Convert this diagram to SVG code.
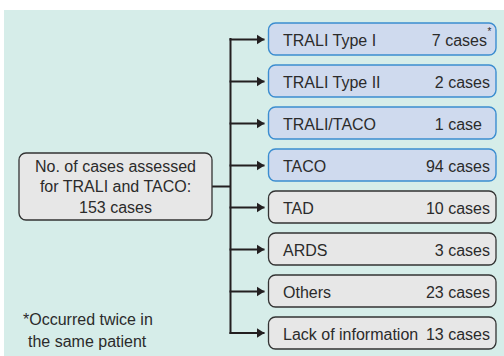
<svg xmlns="http://www.w3.org/2000/svg" width="504" height="356" viewBox="0 0 504 356">
<defs>
<style>
text{font-family:"Liberation Sans",Arial,sans-serif;font-size:16px;fill:#2b2b2b}
.r{text-anchor:end}
.c{text-anchor:middle}
.blue{fill:#cfdaee;stroke:#3b8dd0;stroke-width:1.4}
.gray{fill:#e7e7e7;stroke:#333;stroke-width:1.3}
.conn{fill:none;stroke:#231f20;stroke-width:2}
</style>
<marker id="ah" viewBox="0 0 8 10" refX="8" refY="5" markerWidth="4" markerHeight="5.2" orient="auto" markerUnits="strokeWidth">
<path d="M0,0 L8,5 L0,10 z" fill="#231f20"/>
</marker>
</defs>
<rect x="4" y="10" width="500" height="346" fill="#d6ede9"/>
<g id="connectors">
<path class="conn" d="M212,186.5 H230.5"/>
<path class="conn" d="M230.5,38 V334"/>
<path class="conn" d="M229.5,39.5 H264.5" marker-end="url(#ah)"/>
<path class="conn" d="M229.5,81.5 H264.5" marker-end="url(#ah)"/>
<path class="conn" d="M229.5,123.5 H264.5" marker-end="url(#ah)"/>
<path class="conn" d="M229.5,165.5 H264.5" marker-end="url(#ah)"/>
<path class="conn" d="M229.5,207.5 H264.5" marker-end="url(#ah)"/>
<path class="conn" d="M229.5,249.5 H264.5" marker-end="url(#ah)"/>
<path class="conn" d="M229.5,291.5 H264.5" marker-end="url(#ah)"/>
<path class="conn" d="M229.5,333 H264.5" marker-end="url(#ah)"/>
</g>
<g id="source">
<rect class="gray" x="19" y="153" width="193" height="67" rx="7"/>
<text class="c" x="115.5" y="171.5">No. of cases assessed</text>
<text class="c" x="115.5" y="192">for TRALI and TACO:</text>
<text class="c" x="115.5" y="213">153 cases</text>
</g>
<g id="trali1">
<rect class="blue" x="268.5" y="23" width="227.5" height="32" rx="7"/>
<text x="283" y="46">TRALI Type I</text>
<text class="r" x="487" y="46">7 cases</text>
<text x="487.5" y="35" style="font-size:10px">*</text>
</g>
<g id="trali2">
<rect class="blue" x="268.5" y="65" width="227.5" height="32" rx="7"/>
<text x="283" y="88">TRALI Type II</text>
<text class="r" x="490" y="88">2 cases</text>
</g>
<g id="tralitaco">
<rect class="blue" x="268.5" y="107" width="227.5" height="32" rx="7"/>
<text x="283" y="130">TRALI/TACO</text>
<text class="r" x="482" y="130">1 case</text>
</g>
<g id="taco">
<rect class="blue" x="268.5" y="149" width="227.5" height="32" rx="7"/>
<text x="283" y="172">TACO</text>
<text class="r" x="490" y="172">94 cases</text>
</g>
<g id="tad">
<rect class="gray" x="268.5" y="191" width="227.5" height="32" rx="7"/>
<text x="283" y="214">TAD</text>
<text class="r" x="490" y="214">10 cases</text>
</g>
<g id="ards">
<rect class="gray" x="268.5" y="233" width="227.5" height="32" rx="7"/>
<text x="283" y="256">ARDS</text>
<text class="r" x="490" y="256">3 cases</text>
</g>
<g id="others">
<rect class="gray" x="268.5" y="275" width="227.5" height="32" rx="7"/>
<text x="283" y="298">Others</text>
<text class="r" x="490" y="298">23 cases</text>
</g>
<g id="lack">
<rect class="gray" x="268.5" y="317" width="227.5" height="32" rx="7"/>
<text x="283" y="340">Lack of information</text>
<text class="r" x="490" y="340">13 cases</text>
</g>
<g id="footnote">
<text x="23" y="325">*Occurred twice in</text>
<text x="28" y="347">the same patient</text>
</g>
</svg>
